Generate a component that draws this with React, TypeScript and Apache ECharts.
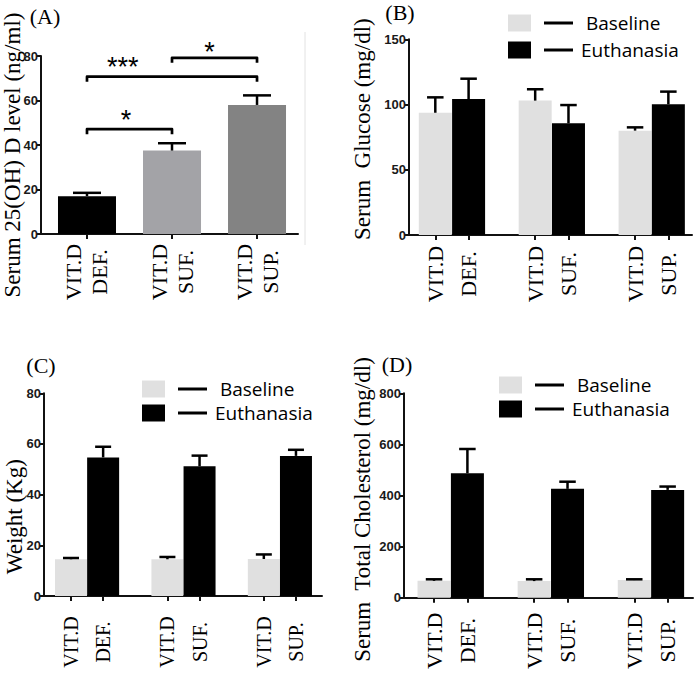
import React, { useEffect, useRef } from 'react';
import * as echarts from 'echarts';

// ---------- data ----------
const groupPrefix = 'VIT.D';
const groupNames = ['DEF.', 'SUF.', 'SUP.'];
const seriesNames = ['Baseline', 'Euthanasia'];

// (A) Serum 25(OH) D level (ng/ml)
const vitDMean = [17, 37.5, 58];
const vitDErr = [1.5, 3.3, 4.3];

// significance brackets in (A)
const sigFrom = [0, 0, 1];
const sigTo = [1, 2, 2];
const sigHeight = [47.1, 70.7, 79.2];
const sigMark = ['*', '***', '*'];
const sigMarkX = [0.46, 0.42, 1.44];
const sigMarkY = [54, 77.8, 84.5];

// (B) Serum Glucose (mg/dl)
const glucoseBaseline = [93.7, 103, 80];
const glucoseBaselineErr = [11.8, 8.7, 2.5];
const glucoseEuth = [104.2, 85.6, 100.2];
const glucoseEuthErr = [15.6, 14, 9.7];

// (C) Weight (Kg)
const weightBaseline = [14.5, 14.5, 14.6];
const weightBaselineErr = [0.5, 0.9, 1.8];
const weightEuth = [54.7, 51.2, 55.3];
const weightEuthErr = [4.2, 4.2, 2.4];

// (D) Serum Total Cholesterol (mg/dl)
const cholBaseline = [66, 65, 69];
const cholBaselineErr = [6, 7, 3];
const cholEuth = [487, 426, 422];
const cholEuthErr = [95, 28, 13];

// ---------- styles ----------
const AXIS_COLOR = '#111';
const BASE_COLOR = '#e0e0e0';
const EUTH_COLOR = '#000000';
const A_COLORS = ['#000000', '#a3a3a7', '#838383'];
const SERIF = '"Liberation Serif", "Times New Roman", serif';
const SANS = '"Liberation Sans", Arial, sans-serif';
const LEGEND_FONT = '"Open Sans", sans-serif';

const pos = (g: number, s: number) => g * 3 + s;
const pairTickValues = [0, 1, 3, 4, 6, 7];

const errRender = (capW: number) => (params: any, api: any) => {
  const x = api.value(0);
  const m = api.value(1);
  const e = api.value(2);
  const p0 = api.coord([x, m]);
  const p1 = api.coord([x, m + e]);
  const st = { stroke: '#000', lineWidth: 2.5 };
  return {
    type: 'group',
    children: [
      { type: 'line', shape: { x1: p0[0], y1: p0[1], x2: p1[0], y2: p1[1] }, style: st },
      { type: 'line', shape: { x1: p1[0] - capW / 2, y1: p1[1], x2: p1[0] + capW / 2, y2: p1[1] }, style: st },
    ],
  };
};

const yAxisCfg = (gridIndex: number, max: number, interval: number, name: string, nameGap: number, pad: number[]) => ({
  type: 'value',
  gridIndex,
  min: 0,
  max,
  interval,
  axisLine: { show: true, onZero: false, lineStyle: { color: AXIS_COLOR, width: 2 } },
  axisTick: { show: true, length: 4, lineStyle: { color: AXIS_COLOR, width: 2 } },
  axisLabel: { margin: 3, fontFamily: SANS, fontWeight: 'bold', fontSize: 13, color: '#1a1a1a' },
  splitLine: { show: false },
  name,
  nameLocation: 'middle',
  nameGap,
  nameRotate: 90,
  nameMoveOverlap: false,
  nameTextStyle: { fontFamily: SERIF, fontSize: 23, color: '#000', lineHeight: 24, padding: pad },
});

const xAxisCfg = (
  gridIndex: number,
  min: number,
  max: number,
  values: number[],
  fmt: (v: number) => string,
  margin: number,
  fontSize: number,
  lineHeight: number
) => ({
  type: 'value',
  gridIndex,
  min,
  max,
  axisLine: { show: true, onZero: false, lineStyle: { color: AXIS_COLOR, width: 2 } },
  axisTick: { show: true, length: 5, customValues: values, lineStyle: { color: AXIS_COLOR, width: 2 } },
  axisLabel: {
    show: true,
    customValues: values,
    formatter: fmt,
    rotate: 90,
    align: 'center',
    verticalAlign: 'middle',
    margin,
    fontFamily: SERIF,
    fontSize,
    lineHeight,
    color: '#000',
  },
  splitLine: { show: false },
});

const pairLabel = (v: number) => {
  const g = Math.floor(v / 3);
  return v % 3 === 0 ? groupPrefix : groupNames[g];
};

const legendCfg = (left: number, top: number, itemGap: number) => ({
  left,
  top,
  orient: 'vertical',
  padding: 0,
  itemWidth: 23,
  itemHeight: 17,
  itemGap,
  icon: 'rect',
  selectedMode: false,
  data: seriesNames,
  formatter: (name: string) => `{sp| }{ln| }{t|${name === 'Baseline' ? ' ' : ''}${name}}`,
  textStyle: {
    fontFamily: LEGEND_FONT,
    fontSize: 19,
    color: '#000',
    rich: {
      sp: { width: 8, height: 3 },
      ln: { width: 29, height: 3, backgroundColor: '#000' },
      t: { fontFamily: LEGEND_FONT, fontSize: 19, lineHeight: 20, color: '#000', padding: [0, 0, 0, 8] },
    },
  },
});

const pairSeries = (
  idx: number,
  base: number[],
  baseErr: number[],
  euth: number[],
  euthErr: number[],
  barW: number
) => [
  {
    type: 'bar',
    name: seriesNames[0],
    xAxisIndex: idx,
    yAxisIndex: idx,
    barWidth: barW,
    barGap: '-100%',
    itemStyle: { color: BASE_COLOR },
    data: base.map((v, g) => [pos(g, 0), v]),
  },
  {
    type: 'bar',
    name: seriesNames[1],
    xAxisIndex: idx,
    yAxisIndex: idx,
    barWidth: barW,
    barGap: '-100%',
    itemStyle: { color: EUTH_COLOR },
    data: euth.map((v, g) => [pos(g, 1), v]),
  },
  {
    type: 'custom',
    name: 'err' + idx,
    xAxisIndex: idx,
    yAxisIndex: idx,
    z: 5,
    renderItem: errRender(barW / 2),
    data: [
      ...base.map((v, g) => [pos(g, 0), v, baseErr[g]]),
      ...euth.map((v, g) => [pos(g, 1), v, euthErr[g]]),
    ],
  },
];

const titleText = (text: string, x: number, y: number) => ({
  type: 'text',
  x,
  y,
  style: { text, font: `22px ${SERIF}`, fill: '#000', align: 'center', verticalAlign: 'middle' },
});

export default function App() {
  const ref = useRef<HTMLDivElement>(null);
  useEffect(() => {
    if (!ref.current) return;
    const chart = echarts.init(ref.current, undefined, { renderer: 'svg' });
    const option: any = {
      animation: false,
      backgroundColor: '#fff',
      grid: [
        { left: 41, top: 56, width: 257, height: 178, outerBoundsMode: 'none', containLabel: false },
        { left: 409, top: 39.3, width: 283, height: 195.7, outerBoundsMode: 'none', containLabel: false },
        { left: 44, top: 393.3, width: 278, height: 202.7, outerBoundsMode: 'none', containLabel: false },
        { left: 404, top: 393.3, width: 289, height: 204.4, outerBoundsMode: 'none', containLabel: false },
      ],
      xAxis: [
        xAxisCfg(0, -0.541, 2.482, [0, 1, 2], (v: number) => `${groupPrefix}\n${groupNames[v]}`, 38, 22, 26),
        xAxisCfg(1, -0.79, 7.71, pairTickValues, pairLabel, 39, 22, 24),
        xAxisCfg(2, -0.84, 7.81, pairTickValues, pairLabel, 46, 20, 22),
        xAxisCfg(3, -0.9, 7.76, pairTickValues, pairLabel, 43, 22, 24),
      ],
      yAxis: [
        yAxisCfg(0, 80, 20, 'Serum 25(OH) D level (ng/ml)', 17, [0, 20, 0, 0]),
        yAxisCfg(1, 150, 50, 'Serum  Glucose (mg/dl)', 35, [0, 0, 0, 16]),
        yAxisCfg(2, 80, 20, 'Weight (Kg)', 18, [0, 44, 0, 0]),
        yAxisCfg(3, 800, 200, 'Serum  Total Cholesterol (mg/dl)', 30, [0, 28, 0, 0]),
      ],
      legend: [legendCfg(508, 13.5, 8), legendCfg(142, 379.5, 5), legendCfg(499, 375.5, 5)],
      graphic: [
        titleText('(A)', 45, 16),
        titleText('(B)', 400, 12),
        titleText('(C)', 41, 365),
        titleText('(D)', 397, 364),
        { type: 'line', shape: { x1: 305, y1: 32, x2: 305, y2: 245 }, style: { stroke: '#e2e2e2', lineWidth: 1 } },
      ],
      series: [
        {
          type: 'bar',
          name: 'Serum 25(OH) D',
          xAxisIndex: 0,
          yAxisIndex: 0,
          barWidth: 58,
          data: vitDMean.map((v, i) => ({ value: [i, v], itemStyle: { color: A_COLORS[i] } })),
        },
        {
          type: 'custom',
          name: 'errA',
          xAxisIndex: 0,
          yAxisIndex: 0,
          z: 5,
          renderItem: errRender(28),
          data: vitDMean.map((v, i) => [i, v, vitDErr[i]]),
        },
        {
          type: 'custom',
          name: 'significance',
          xAxisIndex: 0,
          yAxisIndex: 0,
          z: 5,
          clip: false,
          renderItem: (params: any, api: any) => {
            const a = api.coord([api.value(0), api.value(2)]);
            const b = api.coord([api.value(1), api.value(2)]);
            const t = api.coord([api.value(3), api.value(4)]);
            const mark = sigMark[params.dataIndex];
            return {
              type: 'group',
              children: [
                {
                  type: 'polyline',
                  shape: { points: [[a[0], a[1] + 5], [a[0], a[1]], [b[0], b[1]], [b[0], b[1] + 5]] },
                  style: { stroke: '#000', lineWidth: 2.7, fill: 'none', lineJoin: 'round' },
                },
                {
                  type: 'text',
                  x: t[0],
                  y: t[1] + 6,
                  style: { text: mark, font: `27px ${SANS}`, fill: '#000', align: 'center', verticalAlign: 'middle' },
                },
              ],
            };
          },
          data: sigFrom.map((f, i) => [f, sigTo[i], sigHeight[i], sigMarkX[i], sigMarkY[i]]),
        },
        ...pairSeries(1, glucoseBaseline, glucoseBaselineErr, glucoseEuth, glucoseEuthErr, 33),
        ...pairSeries(2, weightBaseline, weightBaselineErr, weightEuth, weightEuthErr, 32),
        ...pairSeries(3, cholBaseline, cholBaselineErr, cholEuth, cholEuthErr, 33),
      ],
    };
    chart.setOption(option);
    return () => chart.dispose();
  }, []);
  return <div ref={ref} style={{ position: 'absolute', left: 0, top: 0, width: 695, height: 677 }} />;
}
